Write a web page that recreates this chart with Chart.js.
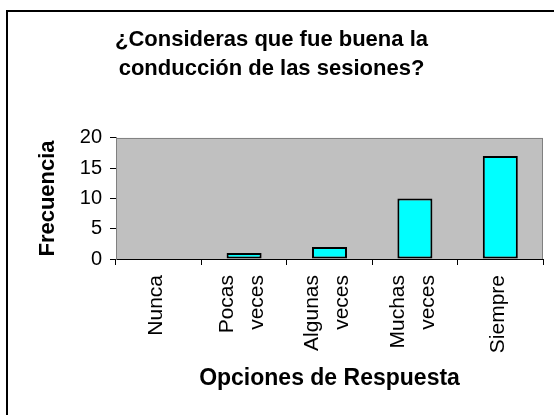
<!DOCTYPE html>
<html>
<head>
<meta charset="utf-8">
<script src="https://cdn.jsdelivr.net/npm/chart.js@4.4.1/dist/chart.umd.min.js"></script>
<style>
  html, body { margin: 0; padding: 0; background: #fff; }
  #wrap { width: 554px; height: 415px; }
</style>
</head>
<body>
<div id="wrap"><canvas id="chart" width="554" height="415"></canvas></div>
<script>
// ===== Data =====
const categories = ['Nunca', ['Pocas', 'veces'], ['Algunas', 'veces'], ['Muchas', 'veces'], 'Siempre'];
const frecuencia = [0, 1, 2, 10, 17];
const titleLines = ['¿Consideras que fue buena la', 'conducción de las sesiones?'];

const FONT = "'Liberation Sans', Arial, sans-serif";

// gray plot background + outer frame
const backdrop = {
    id: 'backdrop',
    beforeDraw(chart) {
        const { ctx, chartArea: a } = chart;
        ctx.save();
        ctx.fillStyle = '#c0c0c0';
        ctx.fillRect(a.left, a.top, a.right - a.left, a.bottom - a.top);
        ctx.strokeStyle = '#808080';
        ctx.lineWidth = 1;
        ctx.strokeRect(a.left + 0.5, a.top + 0.5, a.right - a.left - 1, a.bottom - a.top);
        // frame of the whole chart (runs off right/bottom)
        ctx.strokeStyle = '#000';
        ctx.lineWidth = 2;
        ctx.beginPath();
        ctx.moveTo(7, 420);
        ctx.lineTo(7, 11);
        ctx.lineTo(560, 11);
        ctx.stroke();
        ctx.restore();
    }
};

// x tick labels drawn vertically, two-line ones spread like Excel does
const verticalLabels = {
    id: 'verticalLabels',
    afterDraw(chart) {
        const { ctx } = chart;
        const xs = chart.scales.x;
        const gap = 30;
        ctx.save();
        ctx.fillStyle = '#000';
        ctx.font = "21px " + FONT;
        ctx.textAlign = 'right';
        ctx.textBaseline = 'middle';
        categories.forEach((lab, i) => {
            const lines = Array.isArray(lab) ? lab : [lab];
            const cx = xs.getPixelForTick(i) - 2;
            lines.forEach((line, j) => {
                const x = cx + (j - (lines.length - 1) / 2) * gap;
                ctx.save();
                ctx.translate(x, xs.top + 16);
                ctx.rotate(-Math.PI / 2);
                ctx.fillText(line, 0, 0);
                ctx.restore();
            });
        });
        ctx.restore();
    }
};

const data = {
    labels: categories,
    datasets: [{
        label: 'Frecuencia',
        data: frecuencia,
        backgroundColor: '#00ffff',
        borderColor: '#000',
        borderWidth: 2,
        borderSkipped: false,
        barPercentage: 0.41,
        categoryPercentage: 1
    }]
};

const options = {
    responsive: false,
    animation: false,
    layout: { padding: { left: 0, right: 11, top: 0, bottom: 0 } },
    plugins: {
        legend: { display: false },
        tooltip: { enabled: false },
        title: {
            display: true,
            text: titleLines,
            color: '#000',
            font: { family: FONT, size: 22, weight: 'bold', lineHeight: 1.34 },
            padding: { top: 25, bottom: 54 }
        }
    },
    scales: {
        x: {
            grid: { display: true, drawOnChartArea: false, offset: true, color: '#000', tickLength: 6, tickColor: '#000' },
            border: { color: '#000', width: 1 },
            ticks: { display: false },
            title: {
                display: true, text: 'Opciones de Respuesta', color: '#000',
                font: { family: FONT, size: 23, weight: 'bold' },
                padding: { top: 0, bottom: 23 }
            },
            afterFit(scale) { scale.height = 156; }
        },
        y: {
            min: 0, max: 20,
            grid: { display: true, drawOnChartArea: false, color: '#000', tickLength: 6, tickColor: '#000' },
            border: { color: '#808080', width: 1 },
            ticks: {
                stepSize: 5, color: '#000', padding: 8,
                font: { family: FONT, size: 20 }
            },
            title: {
                display: true, text: 'Frecuencia', color: '#000',
                font: { family: FONT, size: 22, weight: 'bold' },
                padding: { top: 35, bottom: 0 }
            },
            afterFit(scale) { scale.width = 116; }
        }
    }
};

const chart = new Chart(document.getElementById('chart'), {
    type: 'bar',
    data: data,
    options: options,
    plugins: [backdrop, verticalLabels]
});
</script>
</body>
</html>
